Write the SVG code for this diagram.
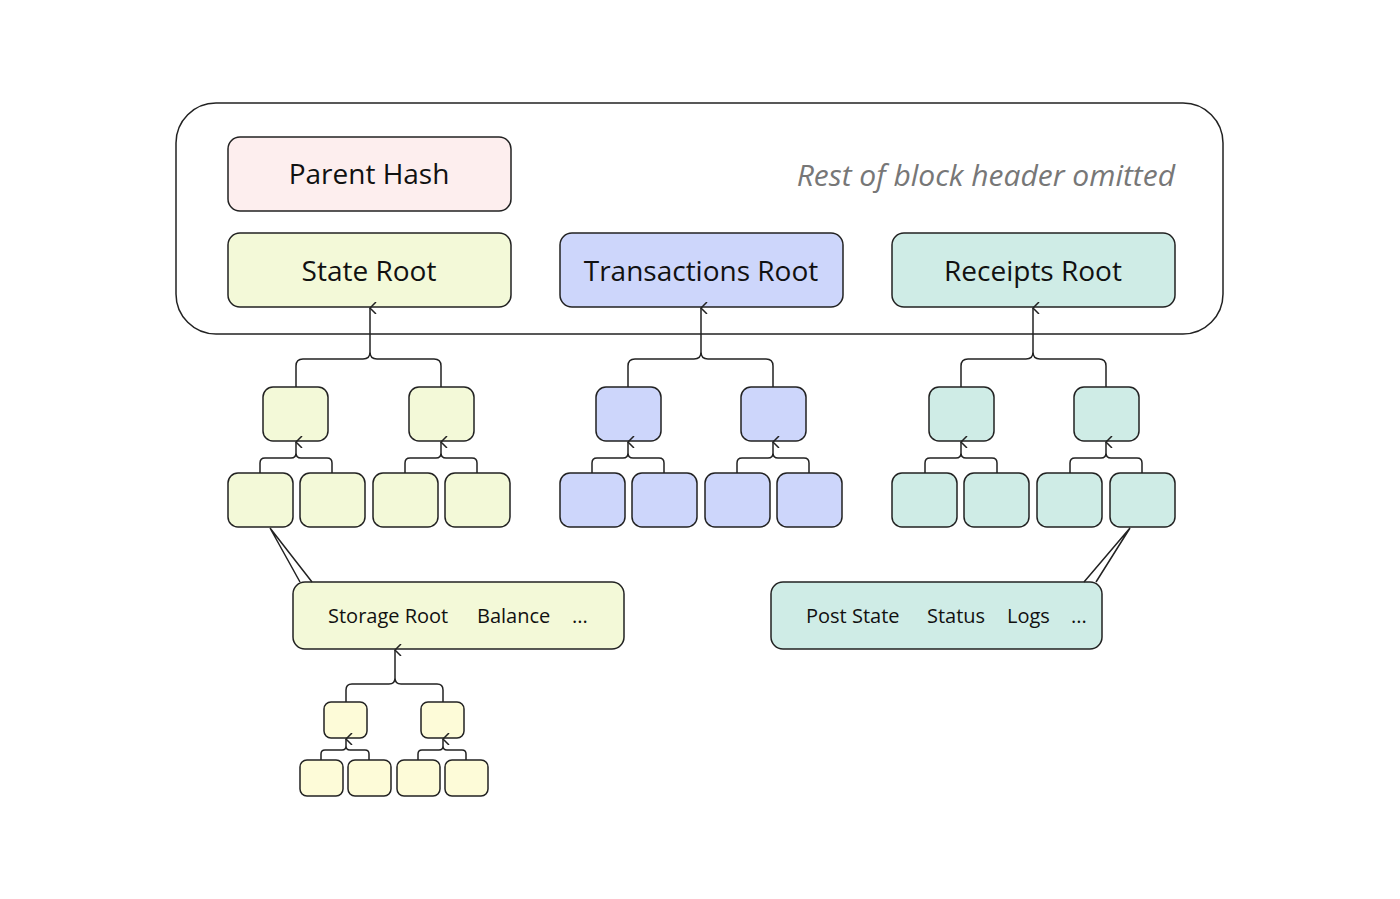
<svg xmlns="http://www.w3.org/2000/svg" width="1400" height="899" viewBox="0 0 1400 899">
<style>
.n{stroke:#222;stroke-width:1.5}
.s{fill:#f3f9d8}.t{fill:#cdd6fb}.r{fill:#cfece6}.p{fill:#fdeeee}.y{fill:#fdfbd8}
.c{fill:none;stroke:#222;stroke-width:1.5}
text{font-family:"Open Sans","Noto Sans",sans-serif;fill:#111}
.big{font-size:28px;text-anchor:middle}
.sm{font-size:20px}
</style>
<defs>
<marker id="a" viewBox="0 0 12 10" refX="6" refY="1" markerWidth="12" markerHeight="10" markerUnits="userSpaceOnUse" orient="auto-start-reverse"><path d="M0,7 L6,1 L12,7" fill="none" stroke="#222" stroke-width="1.5"/></marker>
</defs>
<rect width="1400" height="899" fill="#fff"/>
<g id="header"><rect x="176" y="103" width="1047" height="231" rx="40" fill="#fff" class="n"/>
<text x="1175" y="186" font-size="30" font-style="italic" text-anchor="end" style="fill:#777">Rest of block header omitted</text></g>
<g id="parent"><rect x="228" y="137" width="283" height="74" rx="12" class="n p"/><text x="369" y="184" class="big">Parent Hash</text></g>
<g id="stateRoot"><rect x="228" y="233" width="283" height="74" rx="12" class="n s"/><text x="369" y="281" class="big">State Root</text></g>
<g id="txRoot"><rect x="560" y="233" width="283" height="74" rx="12" class="n t"/><text x="701" y="281" class="big">Transactions Root</text></g>
<g id="rcRoot"><rect x="892" y="233" width="283" height="74" rx="12" class="n r"/><text x="1033" y="281" class="big">Receipts Root</text></g>
<g id="stateTrie">
<rect x="263" y="387" width="65" height="54" rx="10" class="n s"/><rect x="409" y="387" width="65" height="54" rx="10" class="n s"/>
<rect x="228" y="473" width="65" height="54" rx="10" class="n s"/><rect x="300" y="473" width="65" height="54" rx="10" class="n s"/>
<rect x="373" y="473" width="65" height="54" rx="10" class="n s"/><rect x="445" y="473" width="65" height="54" rx="10" class="n s"/></g>
<g id="txTrie">
<rect x="596" y="387" width="65" height="54" rx="10" class="n t"/><rect x="741" y="387" width="65" height="54" rx="10" class="n t"/>
<rect x="560" y="473" width="65" height="54" rx="10" class="n t"/><rect x="632" y="473" width="65" height="54" rx="10" class="n t"/>
<rect x="705" y="473" width="65" height="54" rx="10" class="n t"/><rect x="777" y="473" width="65" height="54" rx="10" class="n t"/></g>
<g id="rcTrie">
<rect x="929" y="387" width="65" height="54" rx="10" class="n r"/><rect x="1074" y="387" width="65" height="54" rx="10" class="n r"/>
<rect x="892" y="473" width="65" height="54" rx="10" class="n r"/><rect x="964" y="473" width="65" height="54" rx="10" class="n r"/>
<rect x="1037" y="473" width="65" height="54" rx="10" class="n r"/><rect x="1110" y="473" width="65" height="54" rx="10" class="n r"/></g>
<g id="account"><rect x="293" y="582" width="331" height="67" rx="12" class="n s"/>
<text x="328" y="623" class="sm">Storage Root</text><text x="477" y="623" class="sm">Balance</text><text x="572" y="623" class="sm">...</text></g>
<g id="receipt"><rect x="771" y="582" width="331" height="67" rx="12" class="n r"/>
<text x="806" y="623" class="sm">Post State</text><text x="927" y="623" class="sm">Status</text><text x="1007" y="623" class="sm">Logs</text><text x="1071" y="623" class="sm">...</text></g>
<g id="storageTrie">
<rect x="324" y="702" width="43" height="36" rx="7" class="n y"/><rect x="421" y="702" width="43" height="36" rx="7" class="n y"/>
<rect x="300" y="760" width="43" height="36" rx="7" class="n y"/><rect x="348" y="760" width="43" height="36" rx="7" class="n y"/>
<rect x="397" y="760" width="43" height="36" rx="7" class="n y"/><rect x="445" y="760" width="43" height="36" rx="7" class="n y"/></g>
<g id="connectors">
<path class="c" d="M296,387 V366 q0,-7 7,-7 H363 q7,0 7,-7 q0,7 7,7 H434 q7,0 7,7 V387"/><path class="c" d="M370,352 V308" marker-end="url(#a)"/>
<path class="c" d="M628,387 V366 q0,-7 7,-7 H694 q7,0 7,-7 q0,7 7,7 H766 q7,0 7,7 V387"/><path class="c" d="M701,352 V308" marker-end="url(#a)"/>
<path class="c" d="M961,387 V366 q0,-7 7,-7 H1026 q7,0 7,-7 q0,7 7,7 H1099 q7,0 7,7 V387"/><path class="c" d="M1033,352 V308" marker-end="url(#a)"/>
<path class="c" d="M260,473 V463 q0,-5 5,-5 H291 q5,0 5,-5 q0,5 5,5 H327 q5,0 5,5 V473 M296,453 V442" marker-end="url(#a)"/>
<path class="c" d="M405,473 V463 q0,-5 5,-5 H436 q5,0 5,-5 q0,5 5,5 H472 q5,0 5,5 V473 M441,453 V442" marker-end="url(#a)"/>
<path class="c" d="M592,473 V463 q0,-5 5,-5 H623 q5,0 5,-5 q0,5 5,5 H659 q5,0 5,5 V473 M628,453 V442" marker-end="url(#a)"/>
<path class="c" d="M737,473 V463 q0,-5 5,-5 H768 q5,0 5,-5 q0,5 5,5 H804 q5,0 5,5 V473 M773,453 V442" marker-end="url(#a)"/>
<path class="c" d="M925,473 V463 q0,-5 5,-5 H956 q5,0 5,-5 q0,5 5,5 H992 q5,0 5,5 V473 M961,453 V442" marker-end="url(#a)"/>
<path class="c" d="M1070,473 V463 q0,-5 5,-5 H1101 q5,0 5,-5 q0,5 5,5 H1137 q5,0 5,5 V473 M1106,453 V442" marker-end="url(#a)"/>
<path class="c" d="M270,528 L300,582 M270,528 L312,582"/>
<path class="c" d="M1130,528 L1084,582 M1130,528 L1096,582"/>
<path class="c" d="M346,702 V690 q0,-6 6,-6 H389 q6,0 6,-6 q0,6 6,6 H437 q6,0 6,6 V702"/><path class="c" d="M395,678 V650" marker-end="url(#a)"/>
<path class="c" d="M321,760 V754 q0,-4 4,-4 H342 q4,0 4,-4 q0,4 4,4 H365 q4,0 4,4 V760 M346,746 V739" marker-end="url(#a)"/>
<path class="c" d="M418,760 V754 q0,-4 4,-4 H439 q4,0 4,-4 q0,4 4,4 H462 q4,0 4,4 V760 M443,746 V739" marker-end="url(#a)"/>
</g>
</svg>
